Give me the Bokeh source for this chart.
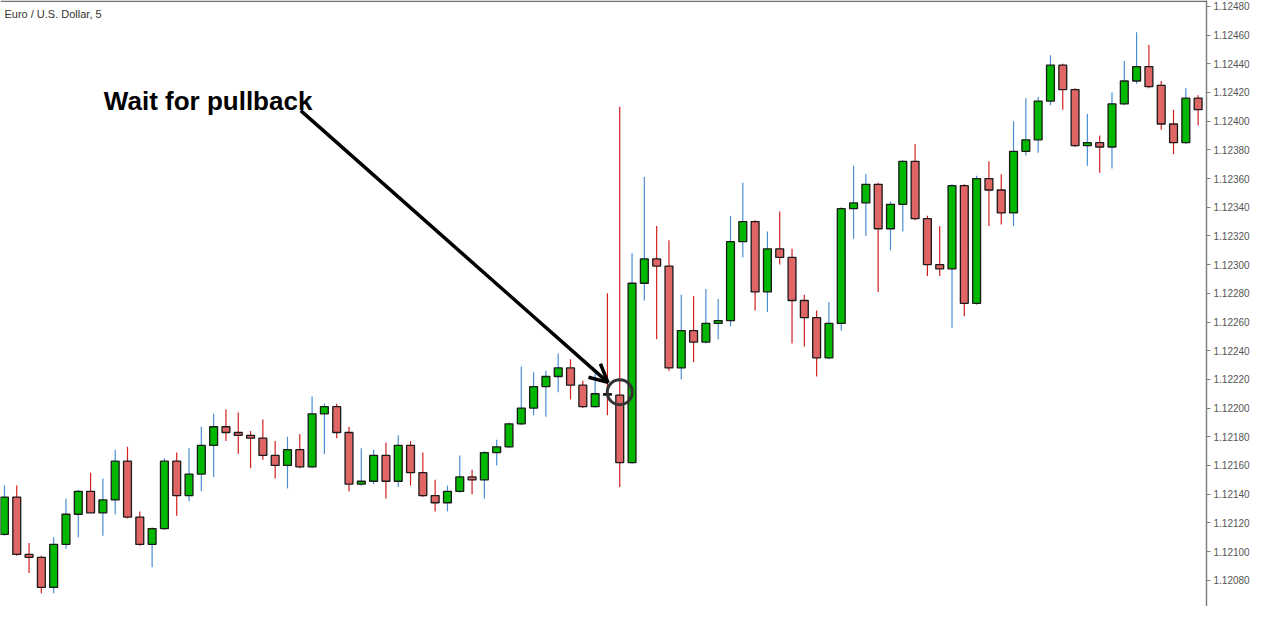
from bokeh.plotting import figure
from bokeh.models import ColumnDataSource, Arrow, OpenHead, Label, Span, FixedTicker, PrintfTickFormatter, Range1d
from bokeh.embed import file_html
from bokeh.resources import INLINE

# ---- data (EUR/USD, 5 min) ----
opens = [1.12112, 1.12138, 1.12098, 1.12096, 1.12075, 1.12105, 1.12126, 1.12142, 1.12127, 1.12136,
         1.12163, 1.12124, 1.12105, 1.12116, 1.12163, 1.12139, 1.12154, 1.12174, 1.12187, 1.12183,
         1.12181, 1.12179, 1.12167, 1.12160, 1.12171, 1.12159, 1.12196, 1.12201, 1.12183, 1.12147,
         1.12149, 1.12167, 1.12149, 1.12174, 1.12155, 1.12139, 1.12134, 1.12142, 1.12152, 1.12150,
         1.12169, 1.12173, 1.12189, 1.12200, 1.12215, 1.12222, 1.12228, 1.12216, 1.12201, 1.12210,
         1.12209, 1.12162, 1.12287, 1.12304, 1.12299, 1.12228, 1.12254, 1.12246, 1.12259, 1.12261,
         1.12316, 1.12330, 1.12281, 1.12311, 1.12305, 1.12275, 1.12263, 1.12235, 1.12259, 1.12339,
         1.12343, 1.12356, 1.12325, 1.12342, 1.12372, 1.12332, 1.12300, 1.12297, 1.12355, 1.12273,
         1.12360, 1.12352, 1.12336, 1.12379, 1.12387, 1.12414, 1.12439, 1.12422, 1.12383, 1.12385,
         1.12382, 1.12412, 1.12428, 1.12438, 1.12425, 1.12398, 1.12385, 1.12416]
highs = [1.12146, 1.12146, 1.12106, 1.12097, 1.12110, 1.12137, 1.12143, 1.12155, 1.12151, 1.12171,
         1.12173, 1.12128, 1.12117, 1.12165, 1.12169, 1.12172, 1.12187, 1.12196, 1.12199, 1.12197,
         1.12184, 1.12192, 1.12177, 1.12180, 1.12182, 1.12208, 1.12203, 1.12203, 1.12187, 1.12172,
         1.12171, 1.12176, 1.12181, 1.12177, 1.12169, 1.12150, 1.12146, 1.12167, 1.12157, 1.12170,
         1.12178, 1.12190, 1.12229, 1.12225, 1.12226, 1.12238, 1.12234, 1.12219, 1.12224, 1.12280,
         1.12410, 1.12308, 1.12361, 1.12327, 1.12317, 1.12279, 1.12278, 1.12283, 1.12276, 1.12334,
         1.12357, 1.12331, 1.12323, 1.12337, 1.12311, 1.12279, 1.12268, 1.12274, 1.12340, 1.12369,
         1.12363, 1.12357, 1.12344, 1.12373, 1.12384, 1.12334, 1.12327, 1.12356, 1.12356, 1.12362,
         1.12372, 1.12363, 1.12400, 1.12416, 1.12417, 1.12446, 1.12440, 1.12423, 1.12405, 1.12390,
         1.12420, 1.12442, 1.12462, 1.12453, 1.12428, 1.12408, 1.12423, 1.12418]
lows = [1.12111, 1.12097, 1.12085, 1.12071, 1.12071, 1.12102, 1.12110, 1.12127, 1.12111, 1.12126,
        1.12123, 1.12104, 1.12089, 1.12115, 1.12125, 1.12135, 1.12142, 1.12152, 1.12177, 1.12168,
        1.12158, 1.12164, 1.12151, 1.12144, 1.12158, 1.12158, 1.12168, 1.12179, 1.12142, 1.12146,
        1.12147, 1.12137, 1.12145, 1.12146, 1.12138, 1.12128, 1.12128, 1.12141, 1.12140, 1.12137,
        1.12160, 1.12172, 1.12188, 1.12195, 1.12194, 1.12211, 1.12206, 1.12200, 1.12200, 1.12195,
        1.12145, 1.12161, 1.12275, 1.12248, 1.12226, 1.12220, 1.12232, 1.12245, 1.12248, 1.12257,
        1.12305, 1.12268, 1.12267, 1.12300, 1.12245, 1.12243, 1.12222, 1.12234, 1.12254, 1.12318,
        1.12320, 1.12281, 1.12310, 1.12323, 1.12331, 1.12292, 1.12292, 1.12256, 1.12264, 1.12272,
        1.12327, 1.12328, 1.12327, 1.12376, 1.12378, 1.12411, 1.12408, 1.12382, 1.12369, 1.12364,
        1.12367, 1.12411, 1.12426, 1.12423, 1.12394, 1.12377, 1.12384, 1.12397]
closes = [1.12138, 1.12098, 1.12096, 1.12075, 1.12105, 1.12126, 1.12142, 1.12127, 1.12136, 1.12163,
          1.12124, 1.12105, 1.12116, 1.12163, 1.12139, 1.12154, 1.12174, 1.12187, 1.12183, 1.12181,
          1.12179, 1.12167, 1.12160, 1.12171, 1.12159, 1.12196, 1.12201, 1.12183, 1.12147, 1.12149,
          1.12167, 1.12149, 1.12174, 1.12155, 1.12139, 1.12134, 1.12142, 1.12152, 1.12150, 1.12169,
          1.12173, 1.12189, 1.12200, 1.12215, 1.12222, 1.12228, 1.12216, 1.12201, 1.12210, 1.12209,
          1.12162, 1.12287, 1.12304, 1.12299, 1.12228, 1.12254, 1.12246, 1.12259, 1.12261, 1.12316,
          1.12330, 1.12281, 1.12311, 1.12305, 1.12275, 1.12263, 1.12235, 1.12259, 1.12339, 1.12343,
          1.12356, 1.12325, 1.12342, 1.12372, 1.12332, 1.12300, 1.12297, 1.12355, 1.12273, 1.12360,
          1.12352, 1.12336, 1.12379, 1.12387, 1.12414, 1.12439, 1.12422, 1.12383, 1.12385, 1.12382,
          1.12412, 1.12428, 1.12438, 1.12424, 1.12398, 1.12385, 1.12416, 1.12408]

price_ticks = [round(1.12060 + 0.0002 * k, 5) for k in range(22)]
title_text = "Euro / U.S. Dollar, 5"
note_text = "Wait for pullback"

# ---- derived ----
idx = list(range(len(opens)))
bull = [c >= o for o, c in zip(opens, closes)]
src = ColumnDataSource(dict(
    x=idx,
    high=highs,
    low=lows,
    top=[max(o, c) for o, c in zip(opens, closes)],
    bottom=[min(o, c) for o, c in zip(opens, closes)],
    body=["#00b800" if b else "#e06666" for b in bull],
    wick=["#4a8fd6" if b else "#d41e1e" for b in bull],
))

W, H = 1252, 606
p = figure(width=W, height=H, output_backend="svg", toolbar_location=None,
           x_range=Range1d(-0.32, 97.68), y_range=Range1d(1.120617, 1.124841),
           y_axis_location="right", x_axis_location=None,
           min_border_left=0, min_border_top=0, min_border_bottom=0, min_border_right=0)
p.background_fill_color = "white"
p.border_fill_color = "white"
p.outline_line_color = None
p.grid.visible = False

ax = p.yaxis[0]
ax.ticker = FixedTicker(ticks=price_ticks)
ax.formatter = PrintfTickFormatter(format="%.5f")
ax.axis_line_color = "#808080"
ax.axis_line_width = 1.5
ax.major_tick_line_color = "#808080"
ax.major_tick_out = 4
ax.major_tick_in = 0
ax.minor_tick_line_color = None
ax.major_label_standoff = 3
ax.major_label_text_font = "Liberation Sans"
ax.major_label_text_font_size = "10px"
ax.major_label_text_color = "#555555"

p.segment(x0="x", y0="low", x1="x", y1="high", source=src, line_color="wick", line_width=1.2)
p.vbar(x="x", width=0.64, top="top", bottom="bottom", source=src,
       fill_color="body", line_color="#1a1a1a", line_width=1.3)

p.add_layout(Span(location=1.124835, dimension="width", line_color="#707070", line_width=1.5))

p.add_layout(Label(x=0, y=1.124746, text=title_text, text_font="Liberation Sans",
                   text_font_size="11px", text_color="#333333", text_baseline="middle"))
p.add_layout(Label(x=8.08, y=1.124141, text=note_text, text_font="Liberation Sans",
                   text_font_size="26px", text_font_style="bold", text_color="black",
                   text_baseline="alphabetic"))

p.add_layout(Arrow(end=OpenHead(size=18, line_width=3.5, line_color="black"),
                   x_start=24.08, y_start=1.124073, x_end=49.04, y_end=1.122179,
                   line_width=3.5, line_color="black"))
p.scatter(x=[50.0], y=[1.122111], size=25, marker="circle", fill_color=None,
          line_color="#333333", line_width=3)

open("out.html", "w").write(file_html(p, INLINE))
